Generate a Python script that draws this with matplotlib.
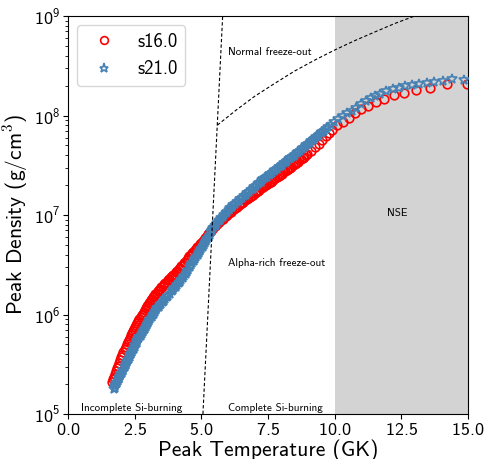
import numpy as np
import matplotlib
matplotlib.use("Agg")
import matplotlib.pyplot as plt

plt.rcParams['font.family'] = ['cmss10', 'DejaVu Sans']
plt.rcParams['mathtext.fontset'] = 'cm'
plt.rcParams['axes.formatter.use_mathtext'] = True
plt.rcParams['axes.unicode_minus'] = False

# (peak temperature in GK, log10 peak density in g/cm^3)
s16_points = [
    (1.64, 5.32), (1.68, 5.348), (1.72, 5.375), (1.76, 5.403), (1.80, 5.43), (1.84, 5.458),
    (1.88, 5.485), (1.92, 5.513), (1.96, 5.54), (2.00, 5.568), (2.04, 5.595), (2.08, 5.623),
    (2.12, 5.65), (2.16, 5.675), (2.20, 5.70), (2.24, 5.723), (2.28, 5.745), (2.32, 5.768),
    (2.36, 5.79), (2.40, 5.81), (2.44, 5.83), (2.48, 5.85), (2.52, 5.87), (2.56, 5.89),
    (2.60, 5.91), (2.64, 5.93), (2.68, 5.95), (2.72, 5.97), (2.76, 5.99), (2.80, 6.01),
    (2.84, 6.03), (2.88, 6.049), (2.92, 6.067), (2.96, 6.084), (3.00, 6.10), (3.04, 6.115),
    (3.08, 6.13), (3.12, 6.145), (3.16, 6.16), (3.20, 6.175), (3.24, 6.19), (3.28, 6.205),
    (3.32, 6.22), (3.36, 6.233), (3.40, 6.245), (3.45, 6.26), (3.50, 6.275), (3.55, 6.29),
    (3.60, 6.305), (3.65, 6.318), (3.70, 6.33), (3.75, 6.345), (3.80, 6.36), (3.85, 6.373),
    (3.90, 6.385), (3.95, 6.398), (4.00, 6.41), (4.05, 6.425), (4.10, 6.44), (4.15, 6.454),
    (4.20, 6.468), (4.25, 6.484), (4.30, 6.50), (4.35, 6.515), (4.40, 6.53), (4.45, 6.548),
    (4.50, 6.565), (4.55, 6.583), (4.60, 6.60), (4.65, 6.615), (4.70, 6.63), (4.75, 6.645),
    (4.80, 6.66), (4.85, 6.675), (4.90, 6.69), (4.95, 6.705), (5.00, 6.72), (5.05, 6.735),
    (5.10, 6.75), (5.15, 6.77), (5.20, 6.79), (5.25, 6.805), (5.30, 6.82), (5.35, 6.838),
    (5.40, 6.855), (5.45, 6.87), (5.50, 6.885), (5.56, 6.90), (5.62, 6.915), (5.68, 6.93),
    (5.74, 6.945), (5.80, 6.96), (5.86, 6.975), (5.92, 6.99), (5.98, 7.005), (6.04, 7.02),
    (6.10, 7.035), (6.16, 7.048), (6.22, 7.06), (6.28, 7.073), (6.34, 7.085), (6.40, 7.098),
    (6.46, 7.11), (6.52, 7.123), (6.58, 7.135), (6.64, 7.148), (6.70, 7.16), (6.76, 7.17),
    (6.82, 7.18), (6.88, 7.193), (6.94, 7.205), (7.00, 7.218), (7.06, 7.23), (7.12, 7.243),
    (7.18, 7.255), (7.24, 7.268), (7.30, 7.28), (7.36, 7.29), (7.42, 7.30), (7.48, 7.313),
    (7.54, 7.325), (7.60, 7.335), (7.66, 7.345), (7.72, 7.358), (7.78, 7.37), (7.84, 7.38),
    (7.90, 7.39), (7.96, 7.403), (8.02, 7.415), (8.08, 7.428), (8.14, 7.44), (8.20, 7.45),
    (8.26, 7.46), (8.32, 7.473), (8.38, 7.485), (8.44, 7.498), (8.50, 7.51), (8.56, 7.523),
    (8.62, 7.535), (8.68, 7.548), (8.74, 7.56), (8.80, 7.573), (8.86, 7.585), (8.92, 7.598),
    (8.98, 7.61), (9.12, 7.645), (9.26, 7.68), (9.40, 7.715), (9.54, 7.75), (9.68, 7.79),
    (9.80, 7.825), (9.89, 7.85), (10.08, 7.909), (10.30, 7.939), (10.54, 7.977),
    (10.76, 8.023), (10.99, 8.068), (11.25, 8.094), (11.56, 8.138), (11.86, 8.162),
    (12.22, 8.202), (12.60, 8.222), (13.05, 8.26), (13.59, 8.276), (14.20, 8.313),
    (14.95, 8.32),
]

s21_points = [
    (1.72, 5.25), (1.75, 5.265), (1.78, 5.28), (1.81, 5.298), (1.84, 5.315), (1.87, 5.333),
    (1.90, 5.35), (1.93, 5.365), (1.96, 5.38), (1.99, 5.398), (2.02, 5.415), (2.05, 5.43),
    (2.08, 5.445), (2.12, 5.468), (2.16, 5.49), (2.19, 5.505), (2.22, 5.52), (2.25, 5.538),
    (2.28, 5.555), (2.31, 5.573), (2.34, 5.59), (2.37, 5.608), (2.40, 5.625), (2.43, 5.64),
    (2.46, 5.655), (2.50, 5.675), (2.53, 5.695), (2.57, 5.715), (2.60, 5.735), (2.64, 5.753),
    (2.68, 5.77), (2.72, 5.788), (2.76, 5.805), (2.80, 5.823), (2.84, 5.84), (2.88, 5.858),
    (2.92, 5.875), (2.96, 5.893), (3.00, 5.91), (3.05, 5.93), (3.09, 5.95), (3.14, 5.97),
    (3.18, 5.99), (3.22, 6.008), (3.26, 6.025), (3.31, 6.045), (3.35, 6.064), (3.40, 6.08),
    (3.45, 6.095), (3.50, 6.11), (3.55, 6.125), (3.60, 6.14), (3.65, 6.155), (3.70, 6.173),
    (3.75, 6.19), (3.82, 6.21), (3.89, 6.232), (3.94, 6.249), (3.99, 6.265), (4.04, 6.28),
    (4.09, 6.295), (4.15, 6.313), (4.20, 6.33), (4.25, 6.348), (4.30, 6.365), (4.36, 6.388),
    (4.41, 6.41), (4.46, 6.43), (4.51, 6.45), (4.56, 6.475), (4.61, 6.50), (4.66, 6.52),
    (4.71, 6.54), (4.76, 6.56), (4.81, 6.58), (4.86, 6.60), (4.90, 6.62), (4.95, 6.64),
    (5.00, 6.66), (5.05, 6.68), (5.09, 6.70), (5.14, 6.72), (5.18, 6.74), (5.23, 6.76),
    (5.27, 6.78), (5.32, 6.803), (5.36, 6.825), (5.41, 6.848), (5.45, 6.87), (5.50, 6.885),
    (5.55, 6.90), (5.60, 6.918), (5.65, 6.935), (5.70, 6.95), (5.75, 6.965), (5.80, 6.983),
    (5.85, 7.0), (5.91, 7.018), (5.96, 7.035), (6.02, 7.053), (6.07, 7.07), (6.14, 7.085),
    (6.20, 7.10), (6.27, 7.115), (6.33, 7.13), (6.40, 7.145), (6.46, 7.16), (6.53, 7.175),
    (6.59, 7.19), (6.66, 7.205), (6.72, 7.22), (6.79, 7.235), (6.85, 7.25), (6.92, 7.265),
    (6.98, 7.28), (7.05, 7.295), (7.11, 7.31), (7.17, 7.323), (7.22, 7.335), (7.27, 7.348),
    (7.32, 7.36), (7.39, 7.373), (7.45, 7.385), (7.52, 7.398), (7.58, 7.41), (7.65, 7.425),
    (7.71, 7.44), (7.78, 7.453), (7.84, 7.465), (7.91, 7.478), (7.97, 7.49), (8.04, 7.505),
    (8.10, 7.52), (8.16, 7.533), (8.22, 7.545), (8.28, 7.558), (8.34, 7.57), (8.40, 7.583),
    (8.46, 7.595), (8.52, 7.608), (8.58, 7.62), (8.64, 7.634), (8.70, 7.647), (8.76, 7.661),
    (8.82, 7.674), (8.88, 7.687), (8.94, 7.70), (9.00, 7.714), (9.06, 7.727), (9.12, 7.741),
    (9.18, 7.754), (9.24, 7.767), (9.30, 7.78), (9.36, 7.794), (9.42, 7.808), (9.48, 7.822),
    (9.54, 7.835), (9.60, 7.849), (9.66, 7.862), (9.76, 7.885), (9.86, 7.905), (9.98, 7.932),
    (10.14, 7.967), (10.32, 8.0), (10.47, 8.023), (10.64, 8.05), (10.80, 8.078),
    (10.98, 8.111), (11.16, 8.145), (11.35, 8.179), (11.52, 8.199), (11.70, 8.219),
    (11.93, 8.242), (12.18, 8.263), (12.41, 8.28), (12.64, 8.293), (12.89, 8.306),
    (13.17, 8.313), (13.47, 8.326), (13.74, 8.333), (14.07, 8.347), (14.39, 8.364),
    (14.86, 8.36),
]

# region boundaries
si_edge_T = [5.06, 5.8]
si_edge_rho = [1e5, 1e9]
freeze_edge_T = [5.6, 6.3, 7.0, 7.75, 8.5, 9.25, 10.0, 10.75, 11.5, 12.25, 13.0]
freeze_edge_rho = [8.0e7, 1.13e8, 1.56e8, 2.1e8, 2.8e8, 3.6e8, 4.55e8, 5.65e8, 6.9e8,
                   8.4e8, 1.0e9]
nse_T = 10.0

s16_T, s16_lr = np.array(s16_points).T
s21_T, s21_lr = np.array(s21_points).T

fig = plt.figure(figsize=(4.86, 4.59), dpi=100)
ax = fig.add_axes([68 / 486, 45 / 459, 400 / 486, 398 / 459])

ax.axvspan(nse_T, 15, color='lightgray', lw=0, zorder=0)

ax.plot(s16_T, 10 ** s16_lr, 'o', ms=6.2, mfc='none', mec='red', mew=1.2,
        label='s16.0', zorder=2)
ax.plot(s21_T, 10 ** s21_lr, '*', ms=7.5, mfc='none', mec='steelblue', mew=1.2,
        label='s21.0', zorder=3)

ax.plot(si_edge_T, si_edge_rho, color='black', lw=0.8, ls=(0, (3, 2)), zorder=4)
ax.plot(freeze_edge_T, freeze_edge_rho, color='black', lw=0.8, ls=(0, (3, 2)), zorder=4)

ax.text(6.0, 4.3e8, 'Normal freeze-out', fontsize=8, va='center')
ax.text(6.0, 3.3e6, 'Alpha-rich freeze-out', fontsize=8, va='center')
ax.text(12.35, 1.05e7, 'NSE', fontsize=8, ha='center', va='center')
ax.text(0.5, 1.15e5, 'Incomplete Si-burning', fontsize=8, va='center')
ax.text(6.0, 1.15e5, 'Complete Si-burning', fontsize=8, va='center')

ax.set_yscale('log')
ax.set_xlim(0, 15)
ax.set_ylim(1e5, 1e9)
ax.set_xticks([0, 2.5, 5, 7.5, 10, 12.5, 15])
ax.tick_params(labelsize=13, pad=2)
ax.set_xlabel('Peak Temperature (GK)', fontsize=15.5, labelpad=1)
ax.set_ylabel('Peak Density (g/cm$^3$)', fontsize=15.5, labelpad=3)

ax.legend(loc='upper left', fontsize=13.5, markerscale=0.9)

fig.savefig('out.png', dpi=100)
